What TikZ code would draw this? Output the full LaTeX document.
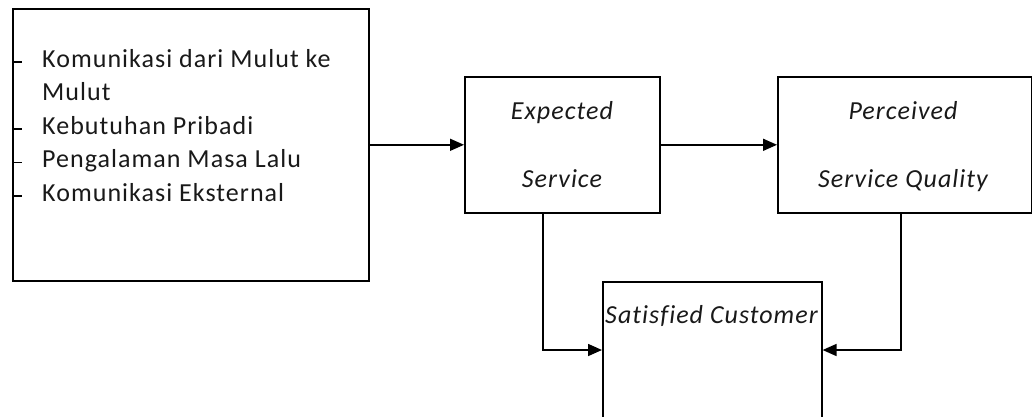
\documentclass[tikz,border=0pt]{standalone}
\usepackage{fontspec}
\setmainfont{Carlito}[LetterSpace=4, Ligatures=NoCommon]
\usetikzlibrary{arrows.meta}
\begin{document}
\begin{tikzpicture}[x=1pt,y=-1pt,
  box/.style={draw, line width=1.6pt, inner sep=0pt, anchor=north west},
  lbl/.style={font=\fontsize{26}{30}\selectfont, inner sep=0pt, anchor=base west, text=black!90},
  ilbl/.style={font=\fontsize{26}{30}\selectfont\itshape, inner sep=0pt, anchor=base, text=black!90},
  arr/.style={line width=1.6pt, -{Triangle[length=14pt,width=12pt]}},
  bul/.style={line width=1.5pt}]
\useasboundingbox (0,0) rectangle (1032,416);
\clip (0,0) rectangle (1032,416);
% boxes
\node[box, minimum width=356pt, minimum height=272pt] (b1) at (12,8) {};
\node[box, minimum width=195pt, minimum height=136pt] (b2) at (464,76) {};
\node[box, minimum width=254pt, minimum height=136pt] (b3) at (777,76) {};
\node[box, minimum width=219pt, minimum height=170pt] (b4) at (602,281) {};
% list in first box
\node[lbl] (t1) at (42,67) {Komunikasi dari Mulut ke};
\node[lbl] (t2) at (42,100.5) {Mulut};
\node[lbl] (t3) at (42,134) {Kebutuhan Pribadi};
\node[lbl] (t4) at (42,167.5) {Pengalaman Masa Lalu};
\node[lbl] (t5) at (42,201) {Komunikasi Eksternal};
\draw[bul] (b1.west |- 0,62) -- ++(10,0);
\draw[bul] (b1.west |- 0,129) -- ++(10,0);
\draw[bul] (b1.west |- 0,162.5) -- ++(10,0);
\draw[bul] (b1.west |- 0,196) -- ++(10,0);
% other labels
\node[ilbl] (e1) at (562,119) {Expected};
\node[ilbl] (e2) at (562,187) {Service};
\node[ilbl] (p1) at (903,119) {Perceived};
\node[ilbl] (p2) at (903,187) {Service Quality};
\node[ilbl] (s1) at (711.5,323) {Satisfied Customer};
% connectors
\coordinate (j1) at (543,350);
\coordinate (j2) at (901,350);
\draw[arr] (b1.east) -- (b2.west);
\draw[arr] (b2.east) -- (b3.west);
\draw[arr] (b2.south -| j1) |- (b4.west |- j1);
\draw[arr] (b3.south -| j2) |- (b4.east |- j2);
\end{tikzpicture}
\end{document}
